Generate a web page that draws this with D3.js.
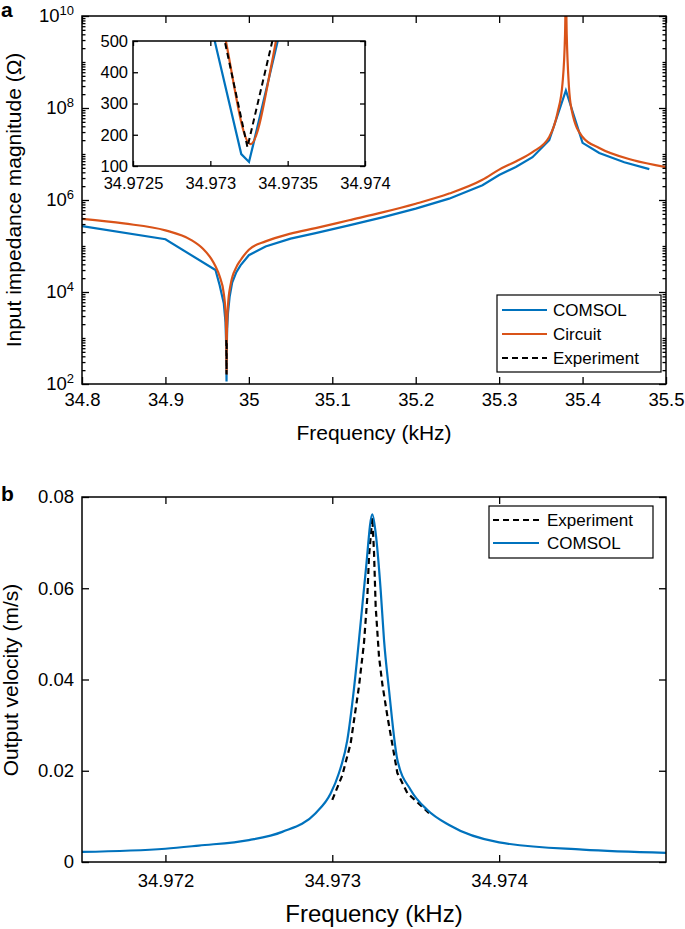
<!DOCTYPE html>
<html>
<head>
<meta charset="utf-8">
<script src="https://cdn.jsdelivr.net/npm/d3@7"></script>
<style>
  body { margin: 0; background: #fff; }
  svg { display: block; font-family: "Liberation Sans", Arial, Helvetica, sans-serif; }
</style>
</head>
<body>
<svg width="685" height="929"></svg>
<script>
// ---- panel a : input impedance (ohm) vs frequency (kHz)
var comsolZFreq = [34.80, 34.90, 34.96, 34.965, 34.970, 34.972, 34.9730, 34.9732, 34.97325, 34.97328, 34.97345,
  34.974, 34.975, 34.977, 34.980, 34.985, 34.990, 35.00, 35.02, 35.05, 35.08, 35.12, 35.16, 35.20, 35.24,
  35.28, 35.30, 35.32, 35.34, 35.36, 35.38, 35.40, 35.42, 35.45, 35.48];
var comsolZ = [2.7e5, 1.4e5, 3.0e4, 1.4e4, 5.6e3, 2.2e3, 560, 138, 113, 174, 530,
  1.6e3, 3.5e3, 8.0e3, 1.6e4, 2.7e4, 3.8e4, 6.3e4, 9.8e4, 1.45e5, 1.9e5, 2.8e5, 4.2e5, 6.5e5, 1.07e6,
  2.1e6, 3.5e6, 5.2e6, 8.5e6, 2.0e7, 2.4e8, 1.75e7, 1.05e7, 6.6e6, 4.7e6];

var circuitZFreq = [34.80, 34.85, 34.90, 34.93, 34.945, 34.955, 34.96, 34.965, 34.970, 34.972, 34.973, 34.9731,
  34.97326, 34.9734, 34.9735, 34.974, 34.975, 34.978, 34.985, 34.990, 35.00, 35.02, 35.05, 35.08, 35.12,
  35.16, 35.20, 35.24, 35.28, 35.30, 35.32, 35.34, 35.36, 35.37, 35.376, 35.379, 35.380, 35.381, 35.3835,
  35.387, 35.40, 35.42, 35.46, 35.50];
var circuitZ = [3.89e5, 3.09e5, 2.19e5, 1.38e5, 8.7e4, 5.25e4, 3.63e4, 2.19e4, 9.1e3, 3.7e3, 776, 501,
  170, 436, 724, 2.19e3, 5.13e3, 1.41e4, 3.47e4, 4.9e4, 8.3e4, 1.26e5, 1.86e5, 2.45e5, 3.63e5,
  5.37e5, 8.3e5, 1.38e6, 2.75e6, 4.57e6, 6.9e6, 1.1e7, 2.34e7, 7.9e7, 3.5e8, 4e9, 3e10, 4e9, 3.2e8,
  8.9e7, 2.34e7, 1.35e7, 7.4e6, 5.2e6];

var exptZFreq = [34.97292, 34.97324, 34.97359];
var exptZ = [900, 160, 900];

var aXTicks = [34.8, 34.9, 35, 35.1, 35.2, 35.3, 35.4, 35.5];
var aYTicks = [1e2, 1e4, 1e6, 1e8, 1e10];
var insetXTicks = [34.9725, 34.973, 34.9735, 34.974];
var insetYTicks = [100, 200, 300, 400, 500];

// ---- panel b : output velocity (m/s) vs frequency (kHz)
var comsolVFreq = [34.9715, 34.9720, 34.9722, 34.9725, 34.9727, 34.9729, 34.97299, 34.97304, 34.97309, 34.97313,
  34.97317, 34.97320, 34.97324, 34.97326, 34.97329, 34.97331, 34.97334, 34.97339, 34.97347, 34.97357,
  34.9737, 34.9740, 34.9745, 34.9750];
var comsolV = [0.0022, 0.0029, 0.0036, 0.0048, 0.0066, 0.0107, 0.0150, 0.0195, 0.0267, 0.0380,
  0.0524, 0.0636, 0.0762, 0.0721, 0.0596, 0.0487, 0.0377, 0.0224, 0.0158, 0.0114,
  0.0081, 0.0043, 0.0027, 0.0020];

var exptVFreq = [34.97300, 34.97306, 34.97311, 34.97316, 34.97319, 34.97321, 34.97322, 34.97324, 34.97325,
  34.97326, 34.97328, 34.97330, 34.97333, 34.97339, 34.97345, 34.97358];
var exptV = [0.0136, 0.0190, 0.0260, 0.0385, 0.0480, 0.0580, 0.0670, 0.0755, 0.0680,
  0.0560, 0.0450, 0.0390, 0.0320, 0.0195, 0.0151, 0.0107];

var bXTicks = [34.972, 34.973, 34.974];
var bYTicks = [0, 0.02, 0.04, 0.06, 0.08];

var blue = "#0072BD", orange = "#D95319";

var svg = d3.select("svg");
var defs = svg.append("defs");

function pts(xs, ys) { return d3.zip(xs, ys); }

function boxAxes(g, x, y, xt, yt, opt) {
  var x0 = x.range()[0], x1 = x.range()[1], y0 = y.range()[0], y1 = y.range()[1];
  var tl = opt.tick || 6;
  g.append("g").attr("transform", "translate(0," + y0 + ")")
    .call(d3.axisBottom(x).tickValues(xt).tickSize(-tl).tickSizeOuter(0).tickPadding(opt.xpad || 6)
      .tickFormat(function(d) { return String(d); }));
  g.append("g").attr("transform", "translate(0," + y1 + ")")
    .call(d3.axisTop(x).tickValues(xt).tickSize(-tl).tickSizeOuter(0).tickFormat(""));
  g.append("g").attr("class", "yl").attr("transform", "translate(" + x0 + ",0)")
    .call(d3.axisLeft(y).tickValues(yt).tickSize(-tl).tickSizeOuter(0).tickPadding(opt.ypad || 6)
      .tickFormat(function(d) { return String(d); }));
  g.append("g").attr("transform", "translate(" + x1 + ",0)")
    .call(d3.axisRight(y).tickValues(yt).tickSize(-tl).tickSizeOuter(0).tickFormat(""));
  g.selectAll(".domain").remove();
  g.selectAll(".tick line").attr("stroke", "#000").attr("stroke-width", 1.3);
  g.selectAll(".tick text").attr("fill", "#000").attr("font-size", opt.font)
    .attr("font-family", "Liberation Sans, Arial, sans-serif");
  g.append("rect").attr("x", x0).attr("y", y1).attr("width", x1 - x0).attr("height", y0 - y1)
    .attr("fill", "none").attr("stroke", "#000").attr("stroke-width", 1.5);
}

function clip(id, x, y) {
  defs.append("clipPath").attr("id", id).append("rect")
    .attr("x", x.range()[0]).attr("y", y.range()[1])
    .attr("width", x.range()[1] - x.range()[0]).attr("height", y.range()[0] - y.range()[1]);
}

// ================= panel a
var xa = d3.scaleLinear().domain([34.8, 35.5]).range([82, 666]);
var ya = d3.scaleLog().domain([1e2, 1e10]).range([384, 16]);
clip("clipA", xa, ya);

var ga = svg.append("g");
var lineA = d3.line().x(function(d) { return xa(d[0]); }).y(function(d) { return ya(d[1]); });
var curveA = d3.line().curve(d3.curveMonotoneX).x(function(d) { return xa(d[0]); }).y(function(d) { return ya(d[1]); });

var la = ga.append("g").attr("clip-path", "url(#clipA)");
la.append("path").datum(pts(comsolZFreq, comsolZ)).attr("d", lineA)
  .attr("fill", "none").attr("stroke", blue).attr("stroke-width", 2.2);
la.append("path").datum(pts(circuitZFreq, circuitZ)).attr("d", curveA)
  .attr("fill", "none").attr("stroke", orange).attr("stroke-width", 2.2);
la.append("path").datum(pts(exptZFreq, exptZ)).attr("d", lineA)
  .attr("fill", "none").attr("stroke", "#000").attr("stroke-width", 2).attr("stroke-dasharray", "6,4");

// minor log ticks
var minors = [];
for (var e = 2; e < 10; e++) for (var m = 2; m <= 9; m++) minors.push(m * Math.pow(10, e));
var oddMajors = [1e3, 1e5, 1e7, 1e9];
ga.append("g").attr("class", "minor").attr("transform", "translate(82,0)")
  .call(d3.axisLeft(ya).tickValues(minors.concat(oddMajors)).tickSize(-3.5).tickFormat(""));
ga.append("g").attr("class", "minor").attr("transform", "translate(666,0)")
  .call(d3.axisRight(ya).tickValues(minors.concat(oddMajors)).tickSize(-3.5).tickFormat(""));

boxAxes(ga, xa, ya, aXTicks, aYTicks, {font: 18.5, tick: 7, xpad: 9, ypad: 8});

// superscript powers of ten
ga.selectAll(".yl .tick text").each(function(d) {
  var t = d3.select(this).text("");
  t.append("tspan").text("10");
  t.append("tspan").attr("dy", "-0.55em").attr("font-size", 13).text(Math.round(Math.log10(d)));
});

ga.append("text").attr("x", 374).attr("y", 440).attr("text-anchor", "middle")
  .attr("font-size", 21).text("Frequency (kHz)");
ga.append("text").attr("transform", "translate(21,200) rotate(-90)").attr("text-anchor", "middle")
  .attr("font-size", 21).text("Input impedance magnitude (\u03A9)");
svg.append("text").attr("x", 1).attr("y", 17).attr("font-weight", "bold").attr("font-size", 21).text("a");

// legend a
var legA = [{name: "COMSOL", c: blue, dash: null}, {name: "Circuit", c: orange, dash: null},
  {name: "Experiment", c: "#000", dash: "6,4"}];
var lga = ga.append("g").attr("transform", "translate(497,295)");
lga.append("rect").attr("width", 164).attr("height", 77).attr("fill", "#fff")
  .attr("stroke", "#000").attr("stroke-width", 1.2);
var lea = lga.selectAll("g").data(legA).enter().append("g")
  .attr("transform", function(d, i) { return "translate(0," + (15 + i * 24) + ")"; });
lea.append("line").attr("x1", 5).attr("x2", 50).attr("stroke", function(d) { return d.c; })
  .attr("stroke-width", 2).attr("stroke-dasharray", function(d) { return d.dash; });
lea.append("text").attr("x", 56).attr("dy", "0.35em").attr("font-size", 17).text(function(d) { return d.name; });

// inset
var xi = d3.scaleLinear().domain([34.9725, 34.974]).range([133, 365]);
var yi = d3.scaleLinear().domain([100, 500]).range([166, 41]);
clip("clipI", xi, yi);
var gi = svg.append("g");
gi.append("rect").attr("x", 133).attr("y", 41).attr("width", 232).attr("height", 125).attr("fill", "#fff");
var lineI = d3.line().x(function(d) { return xi(d[0]); }).y(function(d) { return yi(d[1]); });
var curveI = d3.line().curve(d3.curveMonotoneX).x(function(d) { return xi(d[0]); }).y(function(d) { return yi(d[1]); });
var li = gi.append("g").attr("clip-path", "url(#clipI)");
li.append("path").datum(pts(comsolZFreq, comsolZ)).attr("d", lineI)
  .attr("fill", "none").attr("stroke", blue).attr("stroke-width", 2.2);
li.append("path").datum(pts(circuitZFreq, circuitZ)).attr("d", curveI)
  .attr("fill", "none").attr("stroke", orange).attr("stroke-width", 2.2);
li.append("path").datum(pts(exptZFreq, exptZ)).attr("d", lineI)
  .attr("fill", "none").attr("stroke", "#000").attr("stroke-width", 2).attr("stroke-dasharray", "6,4");
boxAxes(gi, xi, yi, insetXTicks, insetYTicks, {font: 16.5, tick: 5, xpad: 11, ypad: 5});

// ================= panel b
var xb = d3.scaleLinear().domain([34.9715, 34.975]).range([82, 666]);
var yb = d3.scaleLinear().domain([0, 0.08]).range([862, 497]);
clip("clipB", xb, yb);
var gb = svg.append("g");
var lineB = d3.line().x(function(d) { return xb(d[0]); }).y(function(d) { return yb(d[1]); });
var curveB = d3.line().curve(d3.curveMonotoneX).x(function(d) { return xb(d[0]); }).y(function(d) { return yb(d[1]); });
var lb = gb.append("g").attr("clip-path", "url(#clipB)");
lb.append("path").datum(pts(exptVFreq, exptV)).attr("d", lineB)
  .attr("fill", "none").attr("stroke", "#000").attr("stroke-width", 2.2).attr("stroke-dasharray", "6,4");
lb.append("path").datum(pts(comsolVFreq, comsolV)).attr("d", curveB)
  .attr("fill", "none").attr("stroke", blue).attr("stroke-width", 2.2);

boxAxes(gb, xb, yb, bXTicks, bYTicks, {font: 18.5, tick: 7, xpad: 12, ypad: 8});

gb.append("text").attr("x", 374).attr("y", 922).attr("text-anchor", "middle")
  .attr("font-size", 24).text("Frequency (kHz)");
gb.append("text").attr("transform", "translate(18,680) rotate(-90)").attr("text-anchor", "middle")
  .attr("font-size", 21).text("Output velocity (m/s)");
svg.append("text").attr("x", 1).attr("y", 501).attr("font-weight", "bold").attr("font-size", 21).text("b");

var legB = [{name: "Experiment", c: "#000", dash: "6,4"}, {name: "COMSOL", c: blue, dash: null}];
var lgb = gb.append("g").attr("transform", "translate(489,506)");
lgb.append("rect").attr("width", 164).attr("height", 52).attr("fill", "#fff")
  .attr("stroke", "#000").attr("stroke-width", 1.2);
var leb = lgb.selectAll("g").data(legB).enter().append("g")
  .attr("transform", function(d, i) { return "translate(0," + (14 + i * 23) + ")"; });
leb.append("line").attr("x1", 4).attr("x2", 50).attr("stroke", function(d) { return d.c; })
  .attr("stroke-width", 2).attr("stroke-dasharray", function(d) { return d.dash; });
leb.append("text").attr("x", 58).attr("dy", "0.35em").attr("font-size", 17).text(function(d) { return d.name; });
</script>
</body>
</html>
